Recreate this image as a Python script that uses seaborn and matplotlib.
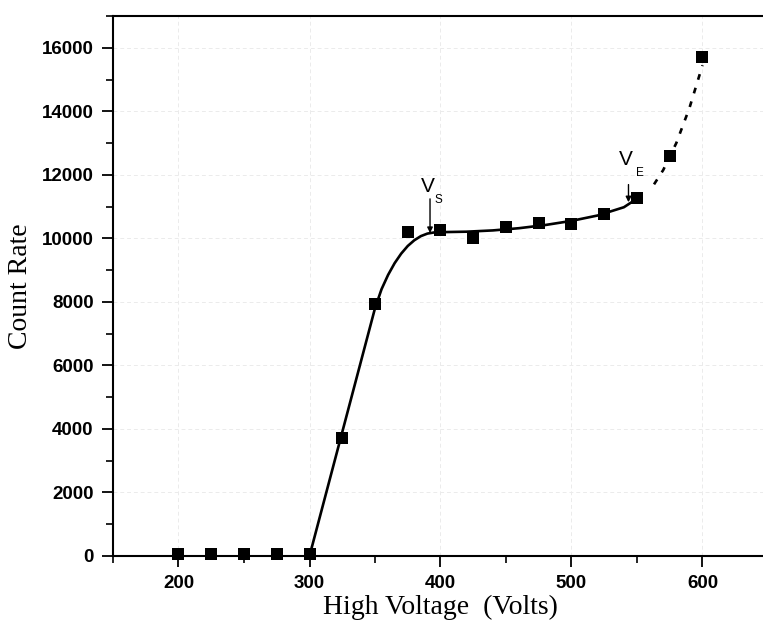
import matplotlib
matplotlib.use("Agg")
import matplotlib.pyplot as plt
import seaborn as sns
import pandas as pd
from matplotlib.ticker import MultipleLocator

# measured data
voltage = [200, 225, 250, 275, 300, 325, 350, 375, 400, 425, 450, 475, 500, 525, 550, 575, 600]
counts = [60, 60, 60, 60, 60, 3720, 7940, 10210, 10270, 10020, 10360, 10490, 10460, 10770, 11280, 12600, 15720]

# fitted curve (solid part)
fit_v = [300, 310, 320, 330, 340, 350, 355, 360, 365, 370, 375, 380, 385, 390, 395, 400,
         420, 440, 460, 480, 500, 520, 540, 550]
fit_c = [0, 1560, 3120, 4680, 6240, 7800, 8400, 8850, 9220, 9520, 9760, 9940, 10070, 10150,
         10185, 10195, 10210, 10250, 10320, 10420, 10550, 10720, 10980, 11250]

# extrapolated part (dashed)
ext_v = [563, 570, 580, 590, 600]
ext_c = [11700, 12150, 13000, 14100, 15450]

x_ticks = [200, 300, 400, 500, 600]
y_ticks = [0, 2000, 4000, 6000, 8000, 10000, 12000, 14000, 16000]

sns.set_style("ticks")
plt.rcParams["font.family"] = ["Liberation Sans", "DejaVu Sans"]
plt.rcParams.update({"text.color": "black", "axes.labelcolor": "black",
                     "xtick.color": "black", "ytick.color": "black",
                     "axes.edgecolor": "black"})

fig = plt.figure(figsize=(7.63, 6.24), dpi=100)
ax = fig.add_axes([113 / 763, 68 / 624, 655 / 763, 540 / 624])

df_pts = pd.DataFrame({"v": voltage, "c": counts})
df_fit = pd.DataFrame({"v": fit_v, "c": fit_c})
df_ext = pd.DataFrame({"v": ext_v, "c": ext_c})

ax.grid(True, color="#ebebeb", linestyle=(0, (4, 3)), linewidth=0.7)
ax.set_axisbelow(True)

sns.lineplot(data=df_fit, x="v", y="c", ax=ax, color="black", linewidth=1.9, sort=False)
sns.lineplot(data=df_ext, x="v", y="c", ax=ax, color="black", linewidth=1.9,
             linestyle=(0, (2.2, 3.2)), sort=False)
sns.scatterplot(data=df_pts, x="v", y="c", ax=ax, marker="s", s=80, color="black",
                edgecolor="black", linewidth=0, zorder=5, clip_on=False)

ax.set_xlim(150, 650)
ax.set_ylim(0, 17000)
ax.set_xticks(x_ticks)
ax.set_yticks(y_ticks)
ax.xaxis.set_minor_locator(MultipleLocator(50))
ax.yaxis.set_minor_locator(MultipleLocator(1000))
ax.tick_params(axis="both", which="major", length=8, width=1.3, direction="out",
               labelsize=13.5, pad=6, colors="black")
ax.tick_params(axis="both", which="minor", length=5, width=1.2, direction="out", colors="black")
for lab in ax.get_xticklabels() + ax.get_yticklabels():
    lab.set_fontweight("bold")
for s in ["left", "bottom", "top"]:
    ax.spines[s].set_linewidth(1.5)
    ax.spines[s].set_color("black")
ax.spines["right"].set_visible(False)

ax.set_xlabel("High Voltage  (Volts)", fontfamily="Liberation Serif", fontsize=20,
              labelpad=2, color="black")
ax.set_ylabel("Count Rate", fontfamily="Liberation Serif", fontsize=20,
              labelpad=6, color="black")

# V_S annotation
ax.annotate("", xy=(392, 10080), xytext=(392, 11330),
            arrowprops=dict(arrowstyle="-|>", color="black", lw=1.0, mutation_scale=8))
ax.text(390, 11620, "V", fontsize=15, ha="center", va="center", color="black")
ax.text(398.5, 11200, "S", fontsize=8.5, ha="center", va="center", color="black")

# V_E annotation
ax.annotate("", xy=(543.5, 11050), xytext=(543.5, 11780),
            arrowprops=dict(arrowstyle="-|>", color="black", lw=1.0, mutation_scale=8))
ax.text(541.5, 12480, "V", fontsize=15, ha="center", va="center", color="black")
ax.text(552.5, 12060, "E", fontsize=8.5, ha="center", va="center", color="black")

fig.savefig("out.png", dpi=100)
